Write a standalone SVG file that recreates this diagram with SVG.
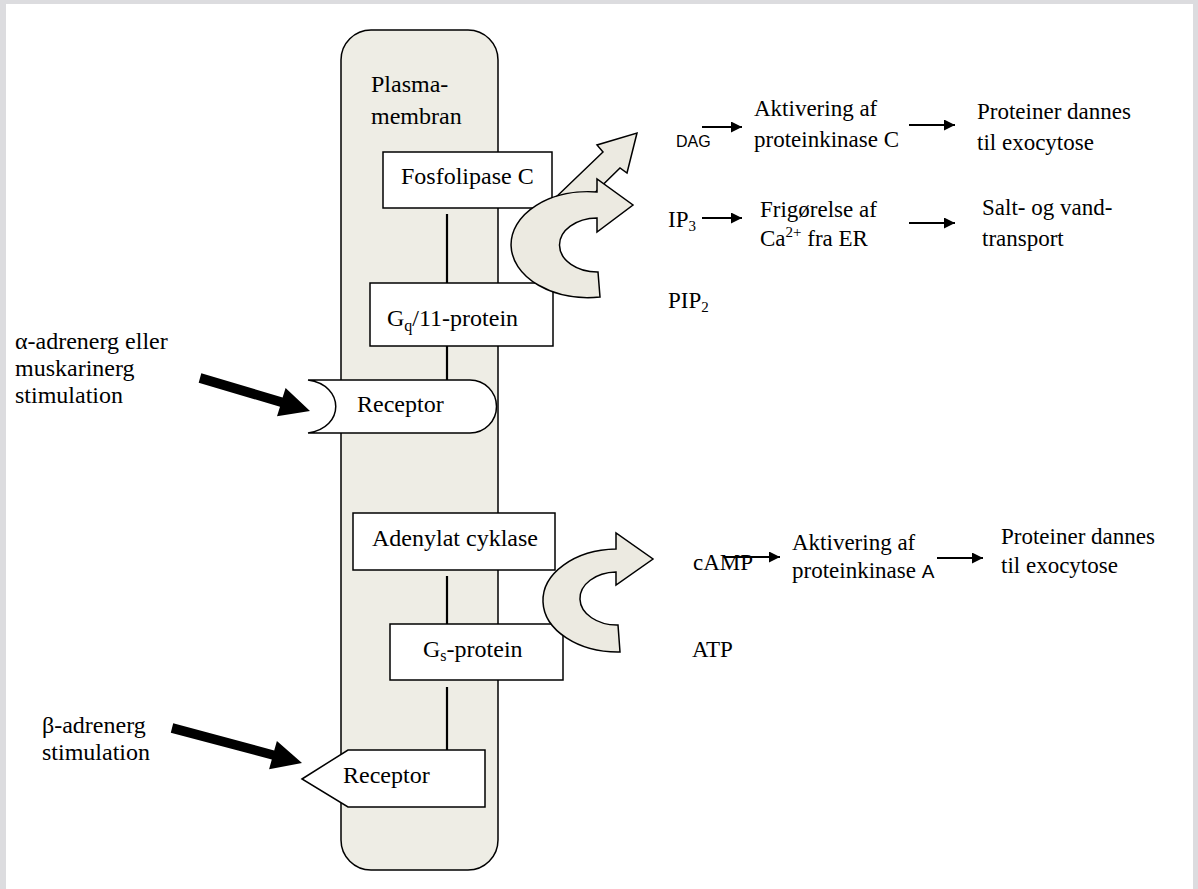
<svg xmlns="http://www.w3.org/2000/svg" width="1198" height="889" viewBox="0 0 1198 889">
<defs>
<style>
.t{font-family:"Liberation Serif","Times New Roman",serif;font-size:24px;fill:#000}
.r{font-family:"Liberation Serif","Times New Roman",serif;font-size:23px;fill:#000}
.s{font-family:"Liberation Sans",Arial,sans-serif;fill:#000}
.box{fill:#fff;stroke:#000;stroke-width:1.5}
.ln{stroke:#000;stroke-width:2.2;fill:none}
.big{fill:#eceae1;stroke:#000;stroke-width:1.5;stroke-linejoin:miter}
.sm{stroke:#000;stroke-width:2;fill:none;marker-end:url(#ah)}
</style>
<marker id="ah" viewBox="0 0 10 10" refX="10" refY="5" markerWidth="5.5" markerHeight="5.5" orient="auto" markerUnits="strokeWidth">
<path d="M0,0 L10,5 L0,10 Z" fill="#000"/>
</marker>
</defs>
<rect x="0" y="0" width="1198" height="889" fill="#dcdcdf"/>
<rect x="6" y="4" width="1187" height="885" fill="#fff"/>

<g id="membrane">
<rect x="341" y="30" width="157" height="840" rx="30" ry="30" fill="#eeede5" stroke="#000" stroke-width="1.5"/>
<text class="t" x="371" y="92">Plasma-</text>
<text class="t" x="371" y="124">membran</text>
</g>

<g id="connectors">
<line class="ln" x1="447" y1="214" x2="447" y2="288"/>
<line class="ln" x1="447" y1="346" x2="447" y2="387"/>
<line class="ln" x1="447" y1="576" x2="447" y2="629"/>
<line class="ln" x1="447" y1="687" x2="447" y2="751"/>
<polygon fill="#000" points="201.3,373.2 282.6,397.6 285.6,388 310,411 277,416.3 280,406.7 198.7,382.8"/>
<polygon fill="#000" points="173.2,723.2 274.2,750.4 276.9,741 302,763 269.1,769.2 271.8,759.5 170.8,732.8"/>
<line class="sm" x1="702" y1="127" x2="742" y2="127"/>
<line class="sm" x1="909" y1="125" x2="955" y2="125"/>
<line class="sm" x1="702" y1="218" x2="742" y2="218"/>
<line class="sm" x1="909" y1="223" x2="955" y2="223"/>
<line class="sm" x1="724" y1="557" x2="780" y2="557"/>
<line class="sm" x1="937" y1="558" x2="983" y2="558"/>
</g>

<g id="fosfolipase">
<rect class="box" x="383" y="152" width="169" height="56"/>
<text class="t" x="401" y="184">Fosfolipase C</text>
</g>

<g id="gq">
<rect class="box" x="370" y="283" width="183" height="63"/>
<text class="t" x="387" y="326">G<tspan font-size="16" dy="5">q</tspan><tspan dy="-5">/11-protein</tspan></text>
</g>

<g id="receptor-alpha">
<path class="box" d="M308,380 H470 A26.5,26.5 0 0 1 470,433 H308 C345,428 345,385 308,380 Z"/>
<text class="t" x="357" y="412">Receptor</text>
</g>

<g id="adenylat">
<rect class="box" x="353" y="513" width="202" height="57"/>
<text class="t" x="372" y="546">Adenylat cyklase</text>
</g>

<g id="gs">
<rect class="box" x="390" y="624" width="173" height="56"/>
<text class="t" x="423" y="657">G<tspan font-size="16" dy="4">s</tspan><tspan dy="-4">-protein</tspan></text>
</g>

<g id="receptor-beta">
<polygon class="box" points="302,779 348,750 485,750 485,807 348,807"/>
<text class="t" x="343" y="783">Receptor</text>
</g>

<g id="arrow-dag">
<polygon class="big" points="553,200 603,152 597,145 637,133 627,173 620,168 570,217"/>
</g>
<g id="arrow-ip3">
<path class="big" d="M597,192 L597,179 L633,205 L597,232 L597,218 A38,27 0 1 0 598,272 L600,297 A77,53 0 1 1 597,192 Z"/>
</g>
<g id="arrow-camp">
<path class="big" d="M616,549 L616,533 L653,559 L616,585 L616,572 A37,26.5 0 1 0 618,625 L620,652 A75,51.5 0 1 1 616,549 Z"/>
</g>

<g id="label-alpha">
<text class="t" x="15" y="349">α-adrenerg eller</text>
<text class="t" x="15" y="376">muskarinerg</text>
<text class="t" x="15" y="403">stimulation</text>
</g>
<g id="label-beta">
<text class="t" x="42" y="733">β-adrenerg</text>
<text class="t" x="42" y="760">stimulation</text>
</g>

<g id="dag"><text class="s" font-size="16" x="676" y="147">DAG</text></g>
<g id="pkc">
<text class="r" x="754" y="116">Aktivering af</text>
<text class="r" x="754" y="147">proteinkinase C</text>
</g>
<g id="exo1">
<text class="r" x="977" y="119">Proteiner dannes</text>
<text class="r" x="977" y="150">til exocytose</text>
</g>
<g id="ip3"><text class="r" x="668" y="227">IP<tspan font-size="15" dy="4">3</tspan></text></g>
<g id="ca">
<text class="r" x="760" y="217">Frigørelse af</text>
<text class="r" x="760" y="246">Ca<tspan font-size="15" dy="-9">2+</tspan><tspan dy="9"> fra ER</tspan></text>
</g>
<g id="salt">
<text class="r" x="982" y="215">Salt- og vand-</text>
<text class="r" x="982" y="246">transport</text>
</g>
<g id="pip2"><text class="r" x="668" y="308">PIP<tspan font-size="15" dy="4">2</tspan></text></g>
<g id="camp"><text class="r" x="693" y="570">cAMP</text></g>
<g id="pka">
<text class="r" x="792" y="550">Aktivering af</text>
<text class="r" x="792" y="578">proteinkinase <tspan class="s" font-size="19">A</tspan></text>
</g>
<g id="exo2">
<text class="r" x="1001" y="544">Proteiner dannes</text>
<text class="r" x="1001" y="573">til exocytose</text>
</g>
<g id="atp"><text class="r" x="692" y="657">ATP</text></g>
</svg>
